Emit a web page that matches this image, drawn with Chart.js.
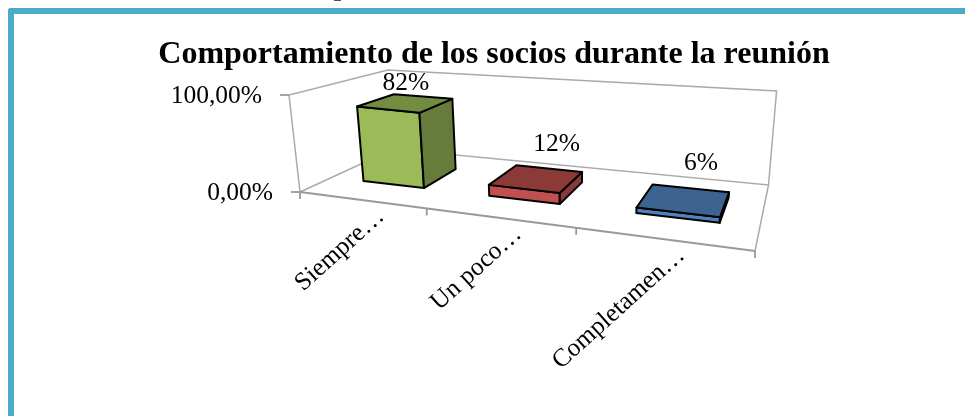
<!DOCTYPE html>
<html>
<head>
<meta charset="utf-8">
<script src="https://cdn.jsdelivr.net/npm/chart.js@4"></script>
<style>
  html, body { margin: 0; padding: 0; background: #fff; overflow: hidden; }
  #frame {
    position: absolute; left: 8px; top: 8px; width: 980px; height: 440px;
    border-top: 6px solid #4bacc6; border-left: 6px solid #4bacc6;
    border-top-left-radius: 3px;
  }
  #cut { position: absolute; left: 334px; top: 0; width: 7px; height: 1px; background: #555; }
  #chart { position: absolute; left: 0; top: 0; }
</style>
</head>
<body>
<div id="frame"></div>
<div id="cut"></div>
<canvas id="chart" width="965" height="416"></canvas>
<script>
// datos
const categories = ['Siempre…', 'Un poco…', 'Completamen…'];
const values = [0.82, 0.12, 0.06];
const valueLabels = ['82%', '12%', '6%'];
const yTickLabels = ['0,00%', '100,00%'];
const frontColors = ['#9bbb59', '#c0504d', '#4f81bd'];
const topColors = ['#728c41', '#8b3a38', '#3d6491'];
const sideColors = ['#677c3b', '#8b3a38', '#2a4a70'];

// camara: esquinas del suelo (frente-izq, frente-der, fondo-der, fondo-izq),
// punto de fuga de las verticales y altura en cada esquina
const floorQuad = [[300, 192], [755, 251], [768.5, 185], [393.5, 149]];
const vanish = [566, 2540];
const lift = [-0.03967, -0.0323, -0.03815, -0.03907];
const barFront = 0.30, barBack = 0.70, barShift = 0.008;   // colocacion de las barras en el suelo
const labelShift = [[0, -19], [20, -34], [17, -36]];
const serif = '"Liberation Serif", "Times New Roman", serif';
const textFont = '25.5px ' + serif;

const floorH = (function (q) {
  const [x0, y0] = q[0], [x1, y1] = q[1], [x2, y2] = q[2], [x3, y3] = q[3];
  const dx1 = x1 - x2, dx2 = x3 - x2, sx = x0 - x1 + x2 - x3;
  const dy1 = y1 - y2, dy2 = y3 - y2, sy = y0 - y1 + y2 - y3;
  const det = dx1 * dy2 - dx2 * dy1;
  const g = (sx * dy2 - dx2 * sy) / det;
  const h = (dx1 * sy - sx * dy1) / det;
  return { ax: x1 - x0 + g * x1, bx: x3 - x0 + h * x3, ay: y1 - y0 + g * y1, by: y3 - y0 + h * y3, x0, y0, g, h };
})(floorQuad);

// u: categoria 0..1, v: profundidad 0..1, w: valor 0..1
function project(u, v, w) {
  const H = floorH;
  const k = w * ((1 - u) * (1 - v) * lift[0] + u * (1 - v) * lift[1] + u * v * lift[2] + (1 - u) * v * lift[3]);
  const d = H.g * u + H.h * v + 1 + k;
  return [
    (H.ax * u + H.bx * v + H.x0 + k * vanish[0]) / d,
    (H.ay * u + H.by * v + H.y0 + k * vanish[1]) / d
  ];
}

function polyline(ctx, pts, close) {
  ctx.beginPath();
  pts.forEach((p, i) => i ? ctx.lineTo(p[0], p[1]) : ctx.moveTo(p[0], p[1]));
  if (close) ctx.closePath();
}

function drawBox(chart) {
  const ctx = chart.ctx;
  const f = floorQuad;
  ctx.save();
  ctx.lineWidth = 1.5;
  ctx.strokeStyle = '#aaaaaa';
  polyline(ctx, [f[0], project(0, 0, 1), project(0, 1, 1), project(1, 1, 1), f[2], f[3], f[0]]);
  ctx.stroke();
  polyline(ctx, [f[2], f[1]]);
  ctx.stroke();
  ctx.strokeStyle = '#999999';
  ctx.lineWidth = 1.8;
  polyline(ctx, [f[0], f[1]]);
  ctx.stroke();

  // marcas del eje x
  for (let i = 0; i <= categories.length; i++) {
    const p = project(i / categories.length, 0, 0);
    polyline(ctx, [p, [p[0], p[1] + 7]]);
    ctx.stroke();
  }

  // eje y
  const yScale = chart.scales.y, area = chart.chartArea;
  ctx.font = textFont;
  ctx.fillStyle = '#000';
  ctx.textAlign = 'right';
  ctx.textBaseline = 'middle';
  yScale.ticks.forEach(t => {
    const w = (area.bottom - yScale.getPixelForValue(t.value)) / area.height;
    const p = project(0, 0, w);
    polyline(ctx, [[p[0] - 9, p[1]], p]);
    ctx.stroke();
    ctx.fillText(t.label, p[0] - 27, p[1] + 1);
  });

  // etiquetas de categoria
  categories.forEach((name, i) => {
    const p = project((i + 0.5) / categories.length, 0, 0);
    ctx.save();
    ctx.translate(p[0] + 20, p[1] + 13);
    ctx.rotate(-42 * Math.PI / 180);
    ctx.fillText(name, 0, 0);
    ctx.restore();
  });
  ctx.restore();
}

function drawBars(chart) {
  const ctx = chart.ctx, area = chart.chartArea;
  const bars = chart.getDatasetMeta(0).data;
  ctx.save();
  ctx.lineWidth = 2;
  ctx.lineJoin = 'round';
  ctx.strokeStyle = '#000';
  bars.forEach((bar, i) => {
    const u0 = (bar.x - bar.width / 2 - area.left) / area.width + barShift;
    const u1 = (bar.x + bar.width / 2 - area.left) / area.width + barShift;
    const w = (area.bottom - bar.y) / area.height;
    const faces = [
      [frontColors[i], [[u0, barFront, 0], [u1, barFront, 0], [u1, barFront, w], [u0, barFront, w]]],
      [sideColors[i], [[u1, barFront, 0], [u1, barBack, 0], [u1, barBack, w], [u1, barFront, w]]],
      [topColors[i], [[u0, barFront, w], [u1, barFront, w], [u1, barBack, w], [u0, barBack, w]]]
    ];
    faces.forEach(([color, pts]) => {
      polyline(ctx, pts.map(p => project(p[0], p[1], p[2])), true);
      ctx.fillStyle = color;
      ctx.fill();
      ctx.stroke();
    });

    // etiqueta de valor
    const c = project((u0 + u1) / 2, (barFront + barBack) / 2, w);
    ctx.fillStyle = '#000';
    ctx.font = textFont;
    ctx.textAlign = 'center';
    ctx.textBaseline = 'middle';
    ctx.fillText(valueLabels[i], c[0] + labelShift[i][0], c[1] + labelShift[i][1]);
  });
  ctx.restore();
}

const box3d = {
  id: 'box3d',
  beforeDatasetDraw(chart) {
    drawBox(chart);
    drawBars(chart);
    return false;   // las barras planas no se pintan
  }
};

new Chart(document.getElementById('chart'), {
  type: 'bar',
  data: {
    labels: categories,
    datasets: [{ data: values, backgroundColor: frontColors, barPercentage: 0.5, categoryPercentage: 1 }]
  },
  options: {
    responsive: false,
    animation: false,
    devicePixelRatio: 1,
    layout: { padding: { left: 23, right: 0, top: 0, bottom: 224 } },
    scales: {
      x: { display: false },
      y: {
        display: false, min: 0, max: 1,
        ticks: { stepSize: 1, callback: (v, i) => yTickLabels[i] }
      }
    },
    plugins: {
      legend: { display: false },
      tooltip: { enabled: false },
      title: {
        display: true,
        fullSize: false,
        text: 'Comportamiento de los socios durante la reunión',
        color: '#000',
        font: { family: serif, size: 32, weight: 'bold' },
        padding: { top: 36, bottom: 21 }
      }
    }
  },
  plugins: [box3d]
});
</script>
</body>
</html>
